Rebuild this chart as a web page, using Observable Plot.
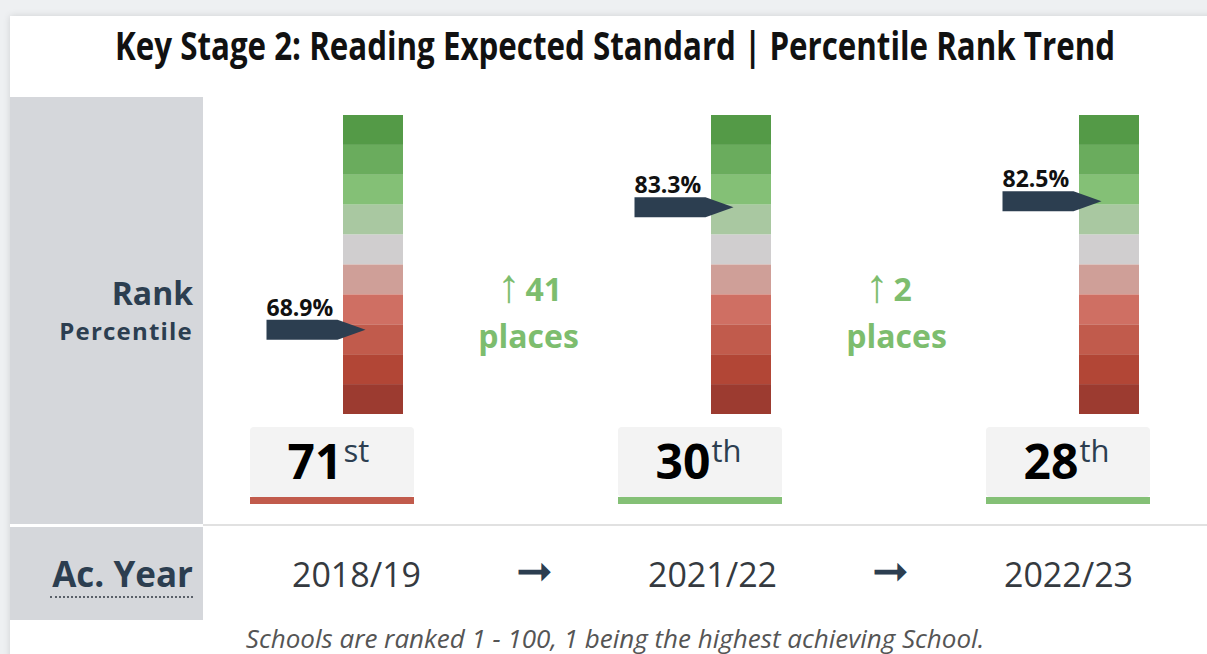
<!DOCTYPE html>
<html>
<head>
<meta charset="utf-8">
<script src="https://cdn.jsdelivr.net/npm/d3@7"></script>
<script src="https://cdn.jsdelivr.net/npm/@observablehq/plot@0.6"></script>
<style>
  html, body { margin: 0; padding: 0; width: 1207px; height: 654px; overflow: hidden; background: #eef0f2; font-family: "Open Sans", "Liberation Sans", sans-serif; }
  #card { position: absolute; left: 10px; top: 16px; width: 1230px; height: 680px; background: #fff; box-shadow: 0 0 7px rgba(0,0,0,0.13); }
  #title { position: absolute; left: 115px; top: 25px; line-height: 39px; font-size: 39px; font-weight: 700; color: #111; white-space: nowrap; transform-origin: 0 0; }
  .panel { position: absolute; left: 10px; width: 193px; background: #d5d7db; }
  .lbl { position: absolute; right: 1014px; white-space: nowrap; font-weight: 700; color: #2c3e50; }
  #divider { position: absolute; left: 203px; top: 524px; width: 1004px; height: 2px; background: #e1e1e1; }
  #gauge { position: absolute; left: 203px; top: 97px; }
  #yearrow { position: absolute; left: 203px; top: 527px; }
  #underline { position: absolute; left: 50px; top: 596px; width: 143px; border-top: 2px dotted #5a6068; }
  #caption { position: absolute; left: 115px; width: 1000px; top: 625px; text-align: center; font-style: italic; font-size: 26px; line-height: 26px; color: #555; white-space: nowrap; }
</style>
</head>
<body>
<div id="card"></div>
<div id="title">Key Stage 2: Reading Expected Standard | Percentile Rank Trend</div>
<div class="panel" style="top:97px;height:427px;"></div>
<div class="panel" style="top:527px;height:93px;"></div>
<div id="divider"></div>
<div class="lbl" style="top:277px;font-size:32px;line-height:32px;">Rank</div>
<div class="lbl" style="top:319px;font-size:24px;line-height:24px;letter-spacing:1.2px;">Percentile</div>
<div class="lbl" style="top:556px;font-size:35px;line-height:35px;">Ac. Year</div>
<div id="underline"></div>
<div id="gauge"></div>
<div id="yearrow"></div>
<div id="caption">Schools are ranked 1 - 100, 1 being the highest achieving School.</div>
<script>
// ---- data ----
const years = ["2018/19", "2021/22", "2022/23"];
const ranks = [71, 30, 28];
const percentiles = [68.9, 83.3, 82.5];
const bandStarts = [0, 10, 20, 30, 40, 50, 60, 70, 80, 90];

// ---- styles ----
const gaugeColors = ["#549a47", "#6aac5d", "#84c076", "#a9c8a1", "#d0cecf",
                     "#cf9f98", "#cf6f63", "#c15b4c", "#b24636", "#9c3b30"];
const navy = "#2c3e50";
const green = "#7dbd6e";
const font = "'Open Sans', 'Liberation Sans', sans-serif";

const rows = years.map((year, i) => ({year, rank: ranks[i], pct: percentiles[i]}));
const segments = years.flatMap(year => bandStarts.map((lo, i) => ({year, lo, hi: lo + 10, i})));
const moves = rows.slice(1).map((d, i) => ({year: d.year, change: rows[i].rank - d.rank}));
const ordinal = n => {
  const s = n % 100;
  if (s >= 11 && s <= 13) return "th";
  return ({1: "st", 2: "nd", 3: "rd"})[n % 10] || "th";
};
const bandOf = r => Math.min(9, Math.floor((r - 1) / 10));

const arrowShape = {
  draw(ctx) {
    ctx.moveTo(-107, -10);
    ctx.lineTo(-36, -10);
    ctx.lineTo(-8, 0);
    ctx.lineTo(-36, 10);
    ctx.lineTo(-107, 10);
    ctx.closePath();
  }
};

const mid = -213; // offset from the later column to the gap between columns

const gauge = Plot.plot({
  width: 1004,
  height: 427,
  marginTop: 18, marginBottom: 110, marginLeft: 0, marginRight: 0,
  x: {type: "band", domain: years, range: [140, 936], paddingInner: 1 - 60 / 368, paddingOuter: 0, axis: null},
  y: {domain: [0, 100], range: [18, 317], axis: null},
  color: {type: "identity"},
  style: {background: "transparent", overflow: "visible", fontFamily: font},
  marks: [
    Plot.barY(segments, {x: "year", y1: "lo", y2: "hi", fill: d => gaugeColors[d.i]}),
    Plot.dot(rows, {x: "year", y: "rank", symbol: arrowShape, r: 10, fill: navy, stroke: "none", dy: 2}),
    Plot.text(rows, {x: "year", y: "rank", text: d => d.pct.toFixed(1) + "%", dx: -107, dy: -12,
      textAnchor: "start", lineAnchor: "bottom", fontSize: 23, fontWeight: 700, fill: "#111"}),
    Plot.cell(rows, {x: "year", fill: "#f3f3f3", insetLeft: -93, insetRight: -11, insetTop: 312, insetBottom: -83, rx: 4}),
    Plot.cell(rows, {x: "year", fill: d => gaugeColors[bandOf(d.rank)], insetLeft: -93, insetRight: -11, insetTop: 382, insetBottom: -90}),
    Plot.text(rows, {x: "year", frameAnchor: "bottom", text: d => String(d.rank), dx: -31, dy: 64,
      textAnchor: "end", lineAnchor: "bottom", fontSize: 48, fontWeight: 700, fill: "#000"}),
    Plot.text(rows, {x: "year", frameAnchor: "bottom", text: d => ordinal(d.rank), dx: -30, dy: 47,
      textAnchor: "start", lineAnchor: "bottom", fontSize: 31, fontWeight: 400, fill: navy}),
    // movement between years: arrow glyph, number of places, "places"
    Plot.text(moves, {x: "year", frameAnchor: "top", text: d => (d.change >= 0 ? "\u2191" : "\u2193"),
      dx: mid - 8, dy: 186, textAnchor: "end", lineAnchor: "bottom", fontSize: 47, fontWeight: 700,
      fontFamily: "'Liberation Sans', 'DejaVu Sans', sans-serif", fill: green}),
    Plot.text(moves, {x: "year", frameAnchor: "top", text: d => String(Math.abs(d.change)),
      dx: mid - 3, dy: 185, textAnchor: "start", lineAnchor: "bottom", fontSize: 32, fontWeight: 700, fill: green}),
    Plot.text(moves, {x: "year", frameAnchor: "top", text: () => "places",
      dx: mid, dy: 232, lineAnchor: "bottom", fontSize: 32, fontWeight: 700, fill: green})
  ]
});
document.getElementById("gauge").appendChild(gauge);

const yearRow = Plot.plot({
  width: 1004,
  height: 93,
  marginTop: 0, marginBottom: 0, marginLeft: 0, marginRight: 0,
  x: {type: "point", domain: years, range: [153, 865], padding: 0, axis: null},
  style: {background: "transparent", overflow: "visible", fontFamily: font},
  marks: [
    Plot.text(years, {x: d => d, text: d => d, frameAnchor: "top", dy: 59, lineAnchor: "bottom", fontSize: 34, fill: "#353a40"}),
    Plot.text(years.slice(1), {x: d => d, text: () => "\u279E", frameAnchor: "top", dx: -178, dy: 44,
      lineAnchor: "middle", fontSize: 44, fill: navy})
  ]
});
document.getElementById("yearrow").appendChild(yearRow);

// condensed title: scale horizontally to the reference width
const t = document.getElementById("title");
const w = t.getBoundingClientRect().width;
t.style.transform = `scaleX(${1000 / w})`;
</script>
</body>
</html>
